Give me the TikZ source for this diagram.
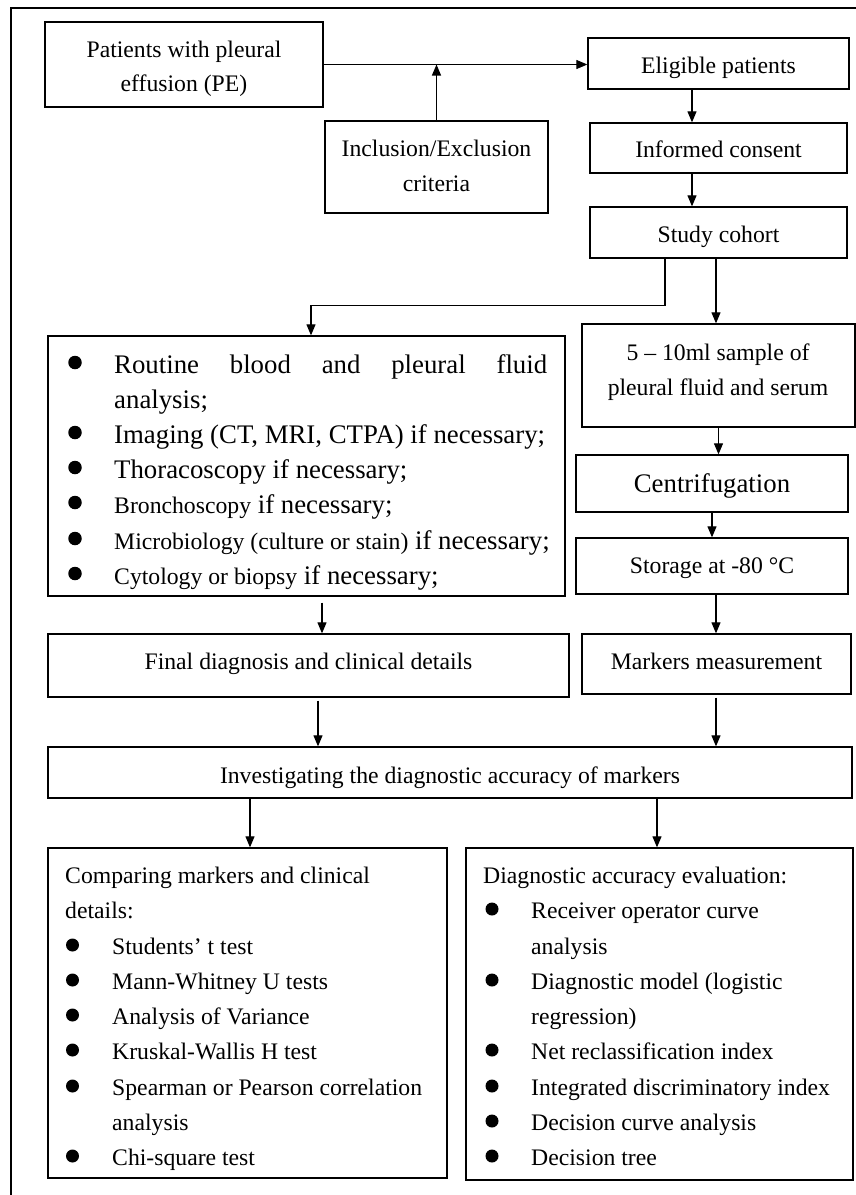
\documentclass[tikz,border=0pt]{standalone}
\usepackage{fontspec}
\setmainfont{Liberation Serif}
\usetikzlibrary{arrows.meta}
\newcommand\myfs{\fontsize{23.7}{35}\selectfont}
\newcommand\myfl{\fontsize{26.8}{35}\selectfont}
\begin{document}
\begin{tikzpicture}[x=1pt,y=-1pt,
  box/.style={draw=black, line width=1.3pt, inner sep=0pt, font=\myfs, text depth=6pt},
  arr/.style={line width=1.1pt, -{Triangle[length=11pt,width=9pt]}},
  lt/.style={anchor=base west, inner sep=0pt, font=\myfs},
  ltc/.style={anchor=base, inner sep=0pt, font=\myfs},
  ltl/.style={anchor=base west, inner sep=0pt, font=\myfl},
  bul/.style={circle, fill=black, inner sep=0pt, minimum size=13.5pt},
  bus/.style={circle, fill=black, inner sep=0pt, minimum size=13pt},
  ]
\useasboundingbox (0,0) rectangle (856,1195);
% outer frame (cropped)
\draw[line width=2pt] (11,1195) -- (11,8) -- (856,8);

% top boxes
\node[box, minimum width=278pt, minimum height=85pt] (pat) at (184,64.5) {};
\node[ltc] (patA) at (184,57) {Patients with pleural};
\node[ltc] (patB) at (184,91) {effusion (PE)};
\node[box, minimum width=261pt, minimum height=51pt, text height=25pt] (elig) at (718.5,63.5) {Eligible patients};
\node[box, minimum width=223pt, minimum height=92pt] (incl) at (436.5,167) {};
\node[ltc] (inclA) at (436.5,156) {Inclusion/Exclusion};
\node[ltc] (inclB) at (436.5,191) {criteria};
\node[box, minimum width=257pt, minimum height=50pt, text height=24pt] (inf) at (718.5,148) {Informed consent};
\node[box, minimum width=257pt, minimum height=51pt, text height=25pt] (study) at (718.5,232.5) {Study cohort};

% middle boxes
\node[box, minimum width=517pt, minimum height=260pt] (routine) at (306.5,466) {};
\node[box, minimum width=273pt, minimum height=103pt] (sample) at (718.5,375.5) {};
\node[ltc] (sampleA) at (718,360) {5 – 10ml sample of};
\node[ltc] (sampleB) at (718,395) {pleural fluid and serum};
\node[box, minimum width=272pt, minimum height=57pt, font=\myfl, text height=23pt] (centri) at (712,483.5) {Centrifugation};
\node[box, minimum width=272pt, minimum height=56pt, text height=20pt] (storage) at (712,566) {Storage at -80 °C};
\node[box, minimum width=269pt, minimum height=60pt, text height=17pt] (markers) at (716.5,664) {Markers measurement};
\node[box, minimum width=521pt, minimum height=63pt, text height=13pt] (final) at (308.5,665.5) {Final diagnosis and clinical details};
\node[box, minimum width=804pt, minimum height=51pt, text height=27pt] (invest) at (450,772.5) {Investigating the diagnostic accuracy of markers};

% bottom boxes
\node[box, minimum width=399pt, minimum height=330pt] (lbot) at (247.5,1013) {};
\node[box, minimum width=387pt, minimum height=332pt] (rbot) at (659.5,1014) {};

% routine box contents
\node[bul] (rb1) at (75,362.5) {};
\node[ltl] (r1) at (114,373) {\makebox[433pt][s]{Routine blood and pleural fluid}};
\node[ltl] (r2) at (114,408) {analysis;};
\node[bul] (rb3) at (75,432.5) {};
\node[ltl] (r3) at (114,443) {Imaging (CT, MRI, CTPA) if necessary;};
\node[bul] (rb4) at (75,467.5) {};
\node[ltl] (r4) at (114,478) {Thoracoscopy if necessary;};
\node[bul] (rb5) at (75,502.5) {};
\node[ltl] (r5) at (114,513) {{\myfs Bronchoscopy} if necessary;};
\node[bul] (rb6) at (75,538.5) {};
\node[ltl] (r6) at (114,549) {{\myfs Microbiology (culture or stain)} if necessary;};
\node[bul] (rb7) at (75,573.5) {};
\node[ltl] (r7) at (114,584) {{\myfs Cytology or biopsy} if necessary;};

% left bottom contents
\node[lt] (l1) at (65,883) {Comparing markers and clinical};
\node[lt] (l2) at (65,918) {details:};
\node[bus] (lb3) at (72.5,945) {};
\node[lt] (l3) at (112,954) {Students’ t test};
\node[bus] (lb4) at (72.5,980) {};
\node[lt] (l4) at (112,989) {Mann-Whitney U tests};
\node[bus] (lb5) at (72.5,1015) {};
\node[lt] (l5) at (112,1024) {Analysis of Variance};
\node[bus] (lb6) at (72.5,1050) {};
\node[lt] (l6) at (112,1059) {Kruskal-Wallis H test};
\node[bus] (lb7) at (72.5,1086) {};
\node[lt] (l7) at (112,1095) {Spearman or Pearson correlation};
\node[lt] (l8) at (112,1130) {analysis};
\node[bus] (lb9) at (72.5,1156) {};
\node[lt] (l9) at (112,1165) {Chi-square test};

% right bottom contents
\node[lt] (q1) at (483,883) {Diagnostic accuracy evaluation:};
\node[bus] (qb2) at (492,909) {};
\node[lt] (q2) at (531,918) {Receiver operator curve};
\node[lt] (q3) at (531,954) {analysis};
\node[bus] (qb4) at (492,980) {};
\node[lt] (q4) at (531,989) {Diagnostic model (logistic};
\node[lt] (q5) at (531,1024) {regression)};
\node[bus] (qb6) at (492,1050) {};
\node[lt] (q6) at (531,1059) {Net reclassification index};
\node[bus] (qb7) at (492,1086) {};
\node[lt] (q7) at (531,1095) {Integrated discriminatory index};
\node[bus] (qb8) at (492,1121) {};
\node[lt] (q8) at (531,1130) {Decision curve analysis};
\node[bus] (qb9) at (492,1156) {};
\node[lt] (q9) at (531,1165) {Decision tree};

% connectors
\draw[arr] (pat.east) -- (pat.east -| elig.west);
\draw[arr] (incl.north) -- (incl.north |- pat.east);
\draw[arr] ([xshift=-26.5pt]elig.south) -- ([xshift=-26.5pt]inf.north);
\draw[arr] ([xshift=-26.5pt]inf.south) -- ([xshift=-26.5pt]study.north);
\draw[arr] ([xshift=-53.5pt]study.south) -- ++(0,47) -| ([xshift=4.5pt]routine.north);
\draw[arr] ([xshift=-2.5pt]study.south) -- ([xshift=-2.5pt]sample.north);
\draw[arr] (sample.south) -- (sample.south |- centri.north);
\draw[arr] (centri.south) -- (storage.north);
\draw[arr] ([xshift=4pt]storage.south) -- ([xshift=4pt]storage.south |- markers.north);
\draw[arr] ([xshift=15.5pt,yshift=-6pt]routine.south) -- ([xshift=13.5pt]final.north);
\draw[arr] ([xshift=9.5pt,yshift=-3pt]final.south) -- ([xshift=-132pt]invest.north);
\draw[arr] ([yshift=-3pt,xshift=-0.5pt]markers.south) -- ([xshift=266pt]invest.north);
\draw[arr] ([xshift=-200pt]invest.south) -- ([xshift=2.5pt]lbot.north);
\draw[arr] ([xshift=207pt]invest.south) -- ([xshift=-2.5pt]rbot.north);
\end{tikzpicture}
\end{document}
